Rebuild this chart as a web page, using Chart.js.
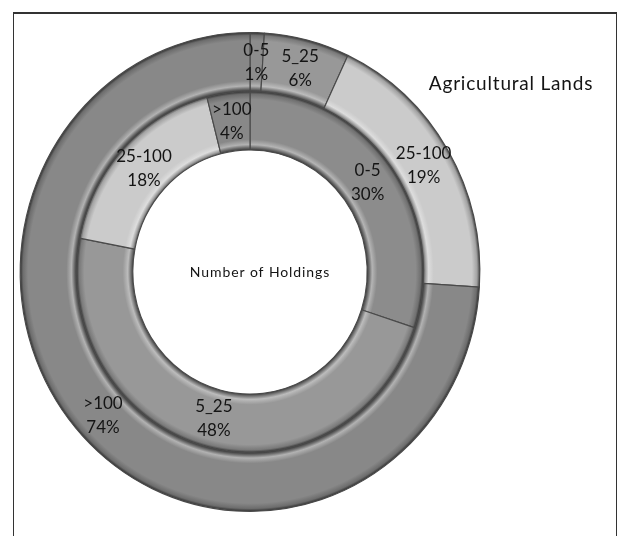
<!DOCTYPE html>
<html>
<head>
<meta charset="utf-8">
<script src="https://cdn.jsdelivr.net/npm/chart.js@4.4.1/dist/chart.umd.min.js"></script>
<style>
  html, body { margin: 0; padding: 0; background: #fff; }
  #wrap { position: relative; width: 620px; height: 536px; overflow: hidden; }
  #frame {
    position: absolute; left: 13px; top: 12px; width: 602px; height: 560px;
    border-top: 2px solid #333; border-left: 1px solid #333; border-right: 1px solid #333;
  }
  #ringChart { position: absolute; left: 0; top: 0; }
</style>
</head>
<body>
<div id="wrap">
  <div id="frame"></div>
  <canvas id="ringChart" width="620" height="536"></canvas>
</div>
<script>
const categories = ['0-5', '5_25', '25-100', '>100'];
const agriculturalLands = [1, 6, 19, 74];   // outer ring, %
const numberOfHoldings = [30, 48, 18, 4];   // inner ring, %
const sliceColors = ['#8c8c8c', '#989898', '#cbcbcb', '#888888'];

const SQUASH_X = 0.96;   // rings are drawn slightly narrower than tall

// mix a hex colour toward white (f > 0) or black (f < 0)
function shade(hex, f) {
  const n = parseInt(hex.slice(1), 16);
  let r = n >> 16, g = (n >> 8) & 255, b = n & 255;
  const t = f < 0 ? 0 : 255, p = Math.abs(f);
  r = Math.round(r + (t - r) * p);
  g = Math.round(g + (t - g) * p);
  b = Math.round(b + (t - b) * p);
  return `rgb(${r},${g},${b})`;
}

function centerOf(chart) {
  const a = chart.chartArea;
  return { x: (a.left + a.right) / 2, y: (a.top + a.bottom) / 2 };
}

// radial gradient across the ring width for a bevelled look
function ringFill(context) {
  const base = sliceColors[context.dataIndex];
  const chart = context.chart;
  const ctrl = chart.getDatasetMeta(context.datasetIndex).controller;
  if (!chart.chartArea || !ctrl || !ctrl.outerRadius) return base;
  const c = centerOf(chart);
  const g = chart.ctx.createRadialGradient(c.x, c.y, ctrl.innerRadius, c.x, c.y, ctrl.outerRadius);
  g.addColorStop(0, shade(base, -0.55));
  g.addColorStop(0.04, shade(base, -0.2));
  g.addColorStop(0.09, shade(base, 0.35));
  g.addColorStop(0.18, base);
  g.addColorStop(0.86, base);
  g.addColorStop(0.95, shade(base, -0.2));
  g.addColorStop(1, shade(base, -0.65));
  return g;
}

const squash = {
  id: 'squash',
  beforeDatasetsDraw(chart) {
    const c = centerOf(chart);
    chart.ctx.save();
    chart.ctx.translate(c.x, c.y);
    chart.ctx.scale(SQUASH_X, 1);
    chart.ctx.translate(-c.x, -c.y);
  },
  afterDatasetsDraw(chart) {
    chart.ctx.restore();
  }
};

// category + percentage written inside each slice
const sliceLabels = {
  id: 'sliceLabels',
  afterDatasetsDraw(chart) {
    const ctx = chart.ctx;
    const c = centerOf(chart);
    ctx.save();
    ctx.font = '17px Lato';
    ctx.fillStyle = '#141414';
    ctx.textAlign = 'center';
    ctx.textBaseline = 'middle';
    chart.data.datasets.forEach((ds, di) => {
      chart.getDatasetMeta(di).data.forEach((arc, i) => {
        const pos = arc.tooltipPosition();
        const x = c.x + (pos.x - c.x) * SQUASH_X;
        ctx.fillText(categories[i], x, pos.y - 12);
        ctx.fillText(ds.data[i] + '%', x, pos.y + 12);
      });
    });
    ctx.restore();
  }
};

// ring names: one in the hole, one beside the chart
const ringNames = {
  id: 'ringNames',
  afterDraw(chart) {
    const ctx = chart.ctx;
    const c = centerOf(chart);
    ctx.save();
    ctx.fillStyle = '#141414';
    ctx.textAlign = 'center';
    ctx.textBaseline = 'middle';
    ctx.font = '14px Lato';
    ctx.letterSpacing = '0.9px';
    ctx.fillText('Number of Holdings', c.x + 10, c.y);
    ctx.font = '19px Lato';
    ctx.letterSpacing = '0.8px';
    ctx.fillText('Agricultural Lands', 511, 84);
    ctx.restore();
  }
};

new Chart(document.getElementById('ringChart'), {
  type: 'doughnut',
  data: {
    labels: categories,
    datasets: [
      {
        label: 'Agricultural Lands',
        data: agriculturalLands,
        backgroundColor: ringFill,
        borderColor: '#4a4a4a',
        borderWidth: 1.2
      },
      {
        label: 'Number of Holdings',
        data: numberOfHoldings,
        backgroundColor: ringFill,
        borderColor: '#4a4a4a',
        borderWidth: 1.2
      }
    ]
  },
  options: {
    responsive: false,
    animation: false,
    cutout: '51%',
    layout: { padding: { left: 10, top: 32, right: 130, bottom: 24 } },
    plugins: {
      legend: { display: false },
      tooltip: { enabled: false }
    }
  },
  plugins: [squash, sliceLabels, ringNames]
});
</script>
</body>
</html>
